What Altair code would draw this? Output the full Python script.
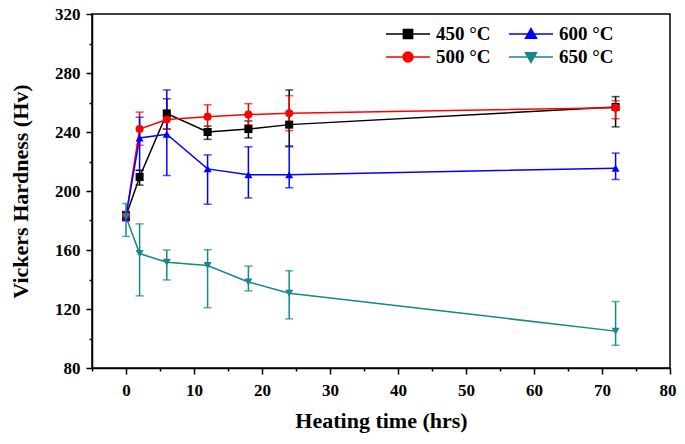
import altair as alt
import pandas as pd

# ---- data ----
time = [0, 2, 6, 12, 18, 24, 72]
series = ["450 °C", "500 °C", "600 °C", "650 °C"]
hv = {
    "450 °C": [183, 209.5, 252.5, 240, 242, 245, 257],
    "500 °C": [183, 242, 248.5, 250.3, 251.8, 252.7, 256.5],
    "600 °C": [183, 236, 238.5, 215, 211, 211, 215.5],
    "650 °C": [182.6, 157.6, 151.7, 149.5, 138.3, 130.7, 105],
}
hi = {
    "450 °C": [186, 214, 262.5, 244, 247.5, 268.5, 264],
    "500 °C": [186, 253.5, 254.8, 258.5, 259.2, 264.6, 261.2],
    "600 °C": [186, 250, 268.5, 224.5, 230, 230, 225.7],
    "650 °C": [191.5, 177.7, 160, 160.2, 149.1, 145.9, 125.1],
}
lo = {
    "450 °C": [180, 204, 242, 235, 236, 230.5, 243.5],
    "500 °C": [180, 231, 242, 242, 244.9, 240.9, 249],
    "600 °C": [180, 214, 210.5, 191, 195.3, 202.2, 207.8],
    "650 °C": [169.2, 128.9, 139.7, 120.9, 132.3, 113.3, 95.4],
}
colors = ["#000000", "#FF0000", "#0000FF", "#178787"]
shapes = ["square", "circle", "triangle-up", "triangle-down"]
x_ticks = list(range(-5, 81, 5))
y_ticks = list(range(80, 321, 20))

rows = []
for s in series:
    for t, v, h, l in zip(time, hv[s], hi[s], lo[s]):
        rows.append({"time": t, "hv": v, "hi": h, "lo": l, "series": s})
df = pd.DataFrame(rows)

path_map = {
    "450 °C": "M-1,0H3M0.58,-0.42H1.42V0.42H0.58Z",
    "500 °C": "M-1,0H3M1.45,0A0.45,0.45,0,1,1,0.55,0A0.45,0.45,0,1,1,1.45,0Z",
    "600 °C": "M-1,0H3M1,-0.5L1.5,0.38L0.5,0.38Z",
    "650 °C": "M-1,0H3M1,0.5L1.5,-0.38L0.5,-0.38Z",
}
leg_paths = [path_map[s] for s in series]

font = "Liberation Serif"

x_axis = alt.Axis(
    title="Heating time (hrs)",
    values=x_ticks,
    labelExpr="(datum.value >= 0 && round(datum.value / 10) * 10 == datum.value) ? format(datum.value, 'd') : ''",
    labelOverlap=False,
    labelFlush=True,
    labelFlushOffset=6,
    tickSize={"condition": {"test": "datum.value % 10 === 0", "value": 6}, "value": 3},
    labelPadding=8,
    titlePadding=12,
)
x_scale = alt.Scale(domain=[-5, 80], nice=False, zero=False)
y_axis = alt.Axis(
    title="Vickers Hardness (Hv)",
    values=y_ticks,
    labelExpr="datum.value % 40 === 0 ? datum.label : ''",
    labelOverlap=False,
    tickSize={"condition": {"test": "datum.value % 40 === 0", "value": 6}, "value": 3},
    labelPadding=6,
    titlePadding=22,
)
y_scale = alt.Scale(domain=[80, 320], nice=False, zero=False)

def cscale():
    return alt.Scale(domain=series, range=colors)

def xe():
    return alt.X("time:Q", scale=x_scale, axis=x_axis)

base = alt.Chart(df)

lines = base.mark_line(strokeWidth=1.5).encode(
    x=xe(), y=alt.Y("hv:Q", scale=y_scale, axis=y_axis),
    color=alt.Color("series:N", scale=cscale(), legend=None),
    detail="series:N",
)

errs = base.mark_errorbar(ticks={"size": 8}, thickness=1.5).encode(
    x=xe(),
    y=alt.Y("lo:Q", scale=y_scale, axis=y_axis),
    y2="hi:Q",
    color=alt.Color("series:N", scale=cscale(), legend=None),
)

pts = base.mark_point(filled=True, size=65, opacity=1).encode(
    x=xe(), y=alt.Y("hv:Q", scale=y_scale, axis=y_axis),
    color=alt.Color("series:N", scale=cscale(), legend=None),
    shape=alt.Shape("series:N", scale=alt.Scale(domain=series, range=shapes), legend=None),
)

leg_def = dict(title=None)
leg = base.transform_filter("false").mark_point(filled=True, size=484, opacity=1, strokeWidth=1.5).encode(
    x=xe(), y=alt.Y("hv:Q", scale=y_scale, axis=y_axis),
    color=alt.Color("series:N", scale=cscale(), legend=alt.Legend(**leg_def)),
    stroke=alt.Stroke("series:N", scale=cscale(), legend=alt.Legend(**leg_def)),
    shape=alt.Shape("series:N", scale=alt.Scale(domain=series, range=leg_paths),
                    legend=alt.Legend(**leg_def)),
)

chart = alt.layer(lines, errs, pts, leg).resolve_scale(
    color="independent", shape="independent", stroke="independent"
).properties(
    width=578, height=354,
    autosize=alt.AutoSizeParams(type="none"),
    padding={"left": 84, "top": 6, "right": 7, "bottom": 68},
).configure_view(
    stroke="black", strokeWidth=1.5
).configure_axis(
    grid=False,
    domainColor="black", domainWidth=1.5,
    tickColor="black", tickWidth=1.5,
    labelFont=font, labelFontSize=17, labelFontWeight="bold", labelColor="black",
    titleFont=font, titleFontSize=22, titleFontWeight="bold", titleColor="black",
).configure_legend(
    orient="none", legendX=293, legendY=8,
    columns=2, columnPadding=15, rowPadding=1,
    symbolSize=484, symbolStrokeWidth=1.5, symbolOpacity=1,
    labelOffset=27, labelFont=font, labelFontSize=19, labelFontWeight="bold", labelColor="black",
)

chart.save("out.html", embed_options={"renderer": "svg", "actions": False})
